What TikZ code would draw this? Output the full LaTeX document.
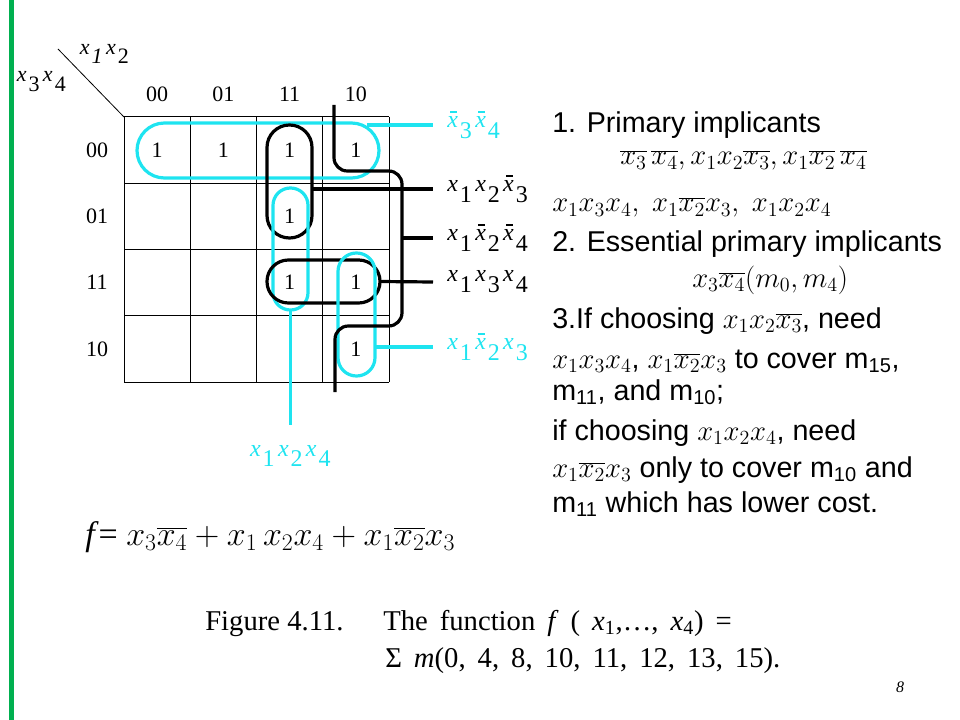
\RequirePackage{fix-cm}
\documentclass[tikz,border=0pt]{standalone}
\usepackage{fontspec}
\setmainfont{Liberation Serif}
\newfontfamily\arialfont{Liberation Sans}
\usetikzlibrary{positioning}
\definecolor{kcyan}{RGB}{30,228,240}
\definecolor{kgreen}{RGB}{0,176,80}
\tikzset{
    cell/.style={inner sep=0pt,font=\fontsize{16.5}{16.5}\selectfont},
    head/.style={inner sep=0pt,font=\fontsize{16.5}{16.5}\selectfont},
    cornerlbl/.style={inner sep=0pt,font=\fontsize{16.5}{16.5}\selectfont},
    term/.style={anchor=west,inner xsep=10.5pt,inner ysep=0pt,font=\fontsize{18}{18}\selectfont},
    blk/.style={line width=2.4pt},
    cyn/.style={line width=2.4pt,draw=kcyan},
    kloop/.style={draw,inner sep=0pt,outer sep=0pt,line width=2.4pt},
    txt/.style={anchor=base west,inner sep=0pt,font=\arialfont\fontsize{21.5}{24}\selectfont},
    figtext/.style={anchor=base west,inner sep=0pt,font=\fontsize{21.5}{24}\selectfont}
}
\newcommand{\kx}[1]{\raisebox{0.45em}{\textit{x}}\kern1.5pt#1\kern2.5pt}
\newcommand{\kxb}[1]{\raisebox{0.45em}{\rlap{\kern0.12em\raisebox{0.62em}{\rule{0.28em}{0.07em}}}\textit{x}}\kern1.5pt#1\kern2.5pt}
\newcommand{\figsp}{\spaceskip=9pt\relax}

\begin{document}
\begin{tikzpicture}[x=0.75pt,y=-0.75pt]

    \useasboundingbox (0,0) rectangle (960,720);
    \draw[kgreen,line width=3.75pt] (11.5,0) -- (11.5,720);

    \foreach \i in {0,...,4} {
        \draw[line width=0.75pt] (124+66.25*\i,117) -- (124+66.25*\i,382);
        \draw[line width=0.75pt] (124,117+66.25*\i) -- (389,117+66.25*\i);
    }
    \coordinate (corner) at (124,117);
    \coordinate (diagtop) at (58,49);
    \draw[line width=0.6pt] (diagtop) -- (corner);

    \node[cornerlbl] (vars34) at (43,82)  {\kx{3}\kx{4}};
    \node[cornerlbl] (vars12) at (106,54) {\kx{\textit{1}}\kx{2}};

    \foreach \t [count=\c from 0] in {00,01,11,10} {
        \node[head] (col\c) at (157.1+66.25*\c,94)  {\t};
        \node[head] (row\c) at (97,150.1+66.25*\c) {\t};
    }

    \foreach \c/\r in {0/0,1/0,2/0,3/0,2/1,2/2,3/2,3/3}
        \node[cell] (m\c\r) at (157.1+66.25*\c,150.1+66.25*\r) {1};

    \node[kloop,draw=kcyan,minimum width=181.5pt,minimum height=41.25pt,rounded corners=20.6pt] (lpA) at (258,150.5) {};
    \node[kloop,minimum width=33.75pt,minimum height=84.75pt,rounded corners=16.8pt]              (lpB) at (289.5,181.5) {};
    \node[kloop,draw=kcyan,minimum width=26.25pt,minimum height=91.5pt,rounded corners=13pt]      (lpC) at (290.5,249) {};
    \node[kloop,minimum width=84.75pt,minimum height=32.25pt,rounded corners=16pt]                (lpD) at (323.5,281.5) {};
    \node[kloop,draw=kcyan,minimum width=27.75pt,minimum height=92.25pt,rounded corners=13.8pt]   (lpE) at (356.5,314.5) {};

    \coordinate (wTop) at (334,105);
    \coordinate (wBot) at (335,392);
    \coordinate (wMid) at (402,238);
    \draw[blk,rounded corners=10pt] (wTop) -- (334,171) -- (402,171) -- (402,326) -- (335,326) -- (wBot);

    \node[term,text=kcyan] (tA) at (433,125) {\kxb{3}\kxb{4}};
    \node[term]            (tB) at (433,189) {\kx{1}\kx{2}\kxb{3}};
    \node[term]            (tW) at (433,238) {\kx{1}\kxb{2}\kxb{4}};
    \node[term]            (tD) at (433,282) {\kx{1}\kx{3}\kx{4}};
    \node[term,text=kcyan] (tE) at (433,347) {\kx{1}\kxb{2}\kx{3}};
    \coordinate (endC) at (290.5,425);
    \node[inner sep=0pt,text=kcyan,font=\fontsize{18}{18}\selectfont] (tC) at (292,456) {\kx{1}\kx{2}\kx{4}};

    \draw[cyn] ([xshift=-9pt,yshift=-1.5pt]lpA.north east) -- (tA.west);
    \draw[blk] (lpB.east |- tB.west) -- (tB.west);
    \draw[blk] (wMid) -- (tW.west);
    \draw[blk] (lpD.east) -- (tD.west);
    \draw[cyn] (lpE.east |- tE.west) -- (tE.west);
    \draw[cyn] (lpC.south) -- (endC);

    \node[txt] (p1)  at (552,133) {1. Primary implicants};
    \node[txt] (p1a) at (620,165) {$\overline{x_3}\,\overline{x_4}, x_1x_2\overline{x_3}, x_1\overline{x_2}\,\overline{x_4}$};
    \node[txt] (p1b) at (552,212) {$x_1x_3x_4,\ x_1\overline{x_2}x_3,\ x_1x_2x_4$};
    \node[txt] (p2)  at (552,252) {2. Essential primary implicants};
    \node[txt] (p2a) at (692,287) {$x_3\overline{x_4}(m_0, m_4)$};
    \node[txt] (p3)  at (552,328) {3.If choosing $x_1x_2\overline{x_3}$, need};
    \node[txt] (p3a) at (552,368) {$x_1x_3x_4$, $x_1\overline{x_2}x_3$ to cover m\textsubscript{15},};
    \node[txt] (p3b) at (552,400) {m\textsubscript{11}, and m\textsubscript{10};};
    \node[txt] (p4)  at (552,440) {if choosing $x_1x_2x_4$, need};
    \node[txt] (p4a) at (552,477) {$x_1\overline{x_2}x_3$ only to cover m\textsubscript{10} and};
    \node[txt] (p4b) at (552,512) {m\textsubscript{11} which has lower cost.};

    \node[anchor=base west,inner sep=0pt,font=\fontsize{25.5}{28}\selectfont] (fml) at (85,545)
        {\textit{f}= $x_3\overline{x_4} + x_1\,x_2x_4 + x_1\overline{x_2}x_3$};

    \node[figtext] (figA) at (205,630) {Figure 4.11.};
    \node[figtext] (figB) at (383,630) {\figsp The function \textit{f} ( \textit{x}\textsubscript{1},…, \textit{x}\textsubscript{4}) =};
    \node[figtext] (figC) at (385,667) {\figsp Σ \textit{m}(0, 4, 8, 10, 11, 12, 13, 15).};
    \node[font=\fontsize{12}{12}\selectfont\itshape] (pg) at (900,687) {8};

\end{tikzpicture}
\end{document}
